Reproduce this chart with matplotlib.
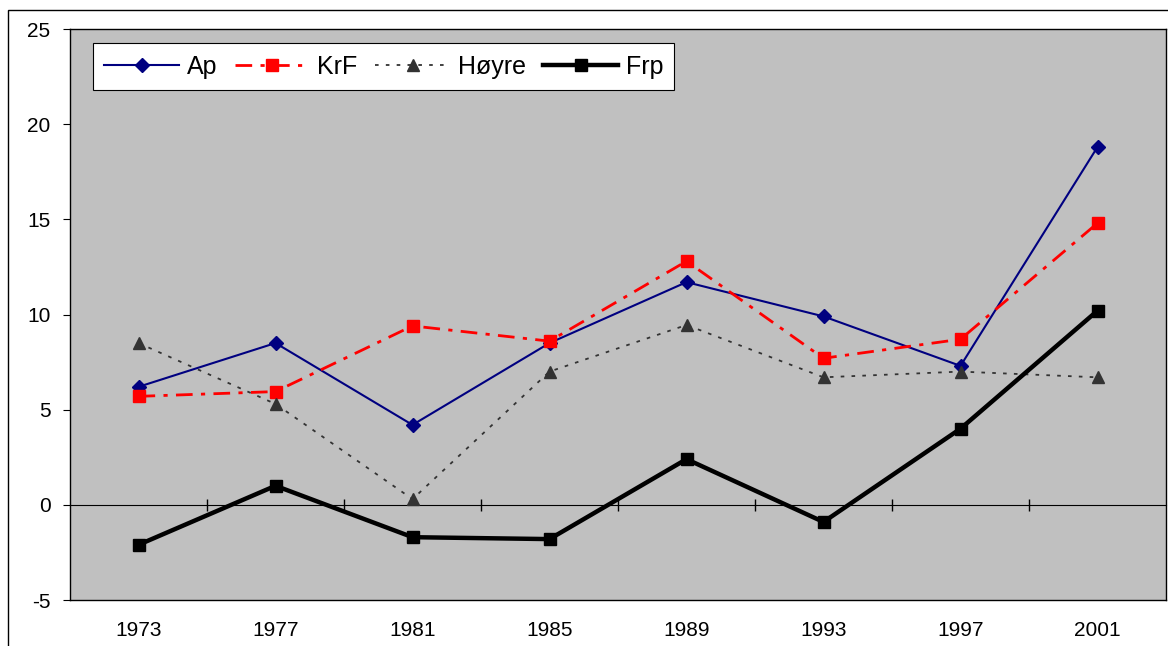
import numpy as np
import matplotlib.pyplot as plt
from matplotlib.patches import Rectangle

plt.rcParams['font.family'] = ['Liberation Sans', 'DejaVu Sans']
plt.rcParams['axes.unicode_minus'] = False

# years on the category axis
years = ['1973', '1977', '1981', '1985', '1989', '1993', '1997', '2001']

# series values
ap = [6.2, 8.5, 4.2, 8.5, 11.7, 9.9, 7.3, 18.8]
krf = [5.7, 5.95, 9.4, 8.6, 12.8, 7.7, 8.7, 14.8]
hoyre = [8.5, 5.3, 0.3, 7.0, 9.45, 6.7, 7.0, 6.7]
frp = [-2.1, 1.0, -1.7, -1.8, 2.4, -0.9, 4.0, 10.2]

y_ticks = [-5, 0, 5, 10, 15, 20, 25]

fig = plt.figure(figsize=(11.68, 6.46), dpi=100)
ax = fig.add_axes([70/1168, 46/646, 1096/1168, 571/646])
ax.set_facecolor('#C0C0C0')

x = np.arange(len(years))

ax.plot(x, ap, color='#000080', lw=1.5, marker='D', ms=7, label='Ap')
ax.plot(x, krf, color='#FF0000', lw=2, ls=(0, (6, 3, 1.5, 3)), marker='s', ms=8, label='KrF')
ax.plot(x, hoyre, color='#333333', lw=1.3, ls=(0, (2, 4)), marker='^', ms=9, label='Høyre')
ax.plot(x, frp, color='black', lw=3.2, marker='s', ms=8, label='Frp')

ax.set_xlim(-0.5, len(years) - 0.5)
ax.set_ylim(y_ticks[0], y_ticks[-1])

ax.set_xticks(x)
ax.set_xticklabels(years)
ax.tick_params(axis='x', length=0, pad=15, labelsize=15)
ax.set_yticks(y_ticks)
ax.tick_params(axis='y', direction='out', length=5, pad=9, labelsize=15)

for s in ax.spines.values():
    s.set_color('black')
    s.set_linewidth(1)

# zero line with crossing ticks between categories
zero_pos = (0 - y_ticks[0]) / (y_ticks[-1] - y_ticks[0])
sec = ax.secondary_xaxis(zero_pos)
sec.set_xticks(x[:-1] + 0.5)
sec.tick_params(direction='inout', length=8, width=1, labelbottom=False, labeltop=False)
sec.spines['bottom'].set_linewidth(0.8)
sec.spines['top'].set_visible(False)

leg = ax.legend(loc='upper left', ncol=4, fontsize=18, frameon=True, fancybox=False,
                edgecolor='black', framealpha=1, handlelength=3.0, columnspacing=0.7,
                handletextpad=0.3, borderpad=0.45, borderaxespad=0,
                bbox_to_anchor=(0.021, 0.975))
leg.get_frame().set_linewidth(0.8)

# outer chart frame
fig.patches.append(Rectangle((8/1168, -0.1), 1.2, 0.1 + 1 - 10/646, transform=fig.transFigure,
                             fill=False, edgecolor='black', lw=1))

fig.savefig('out.png', dpi=100)
